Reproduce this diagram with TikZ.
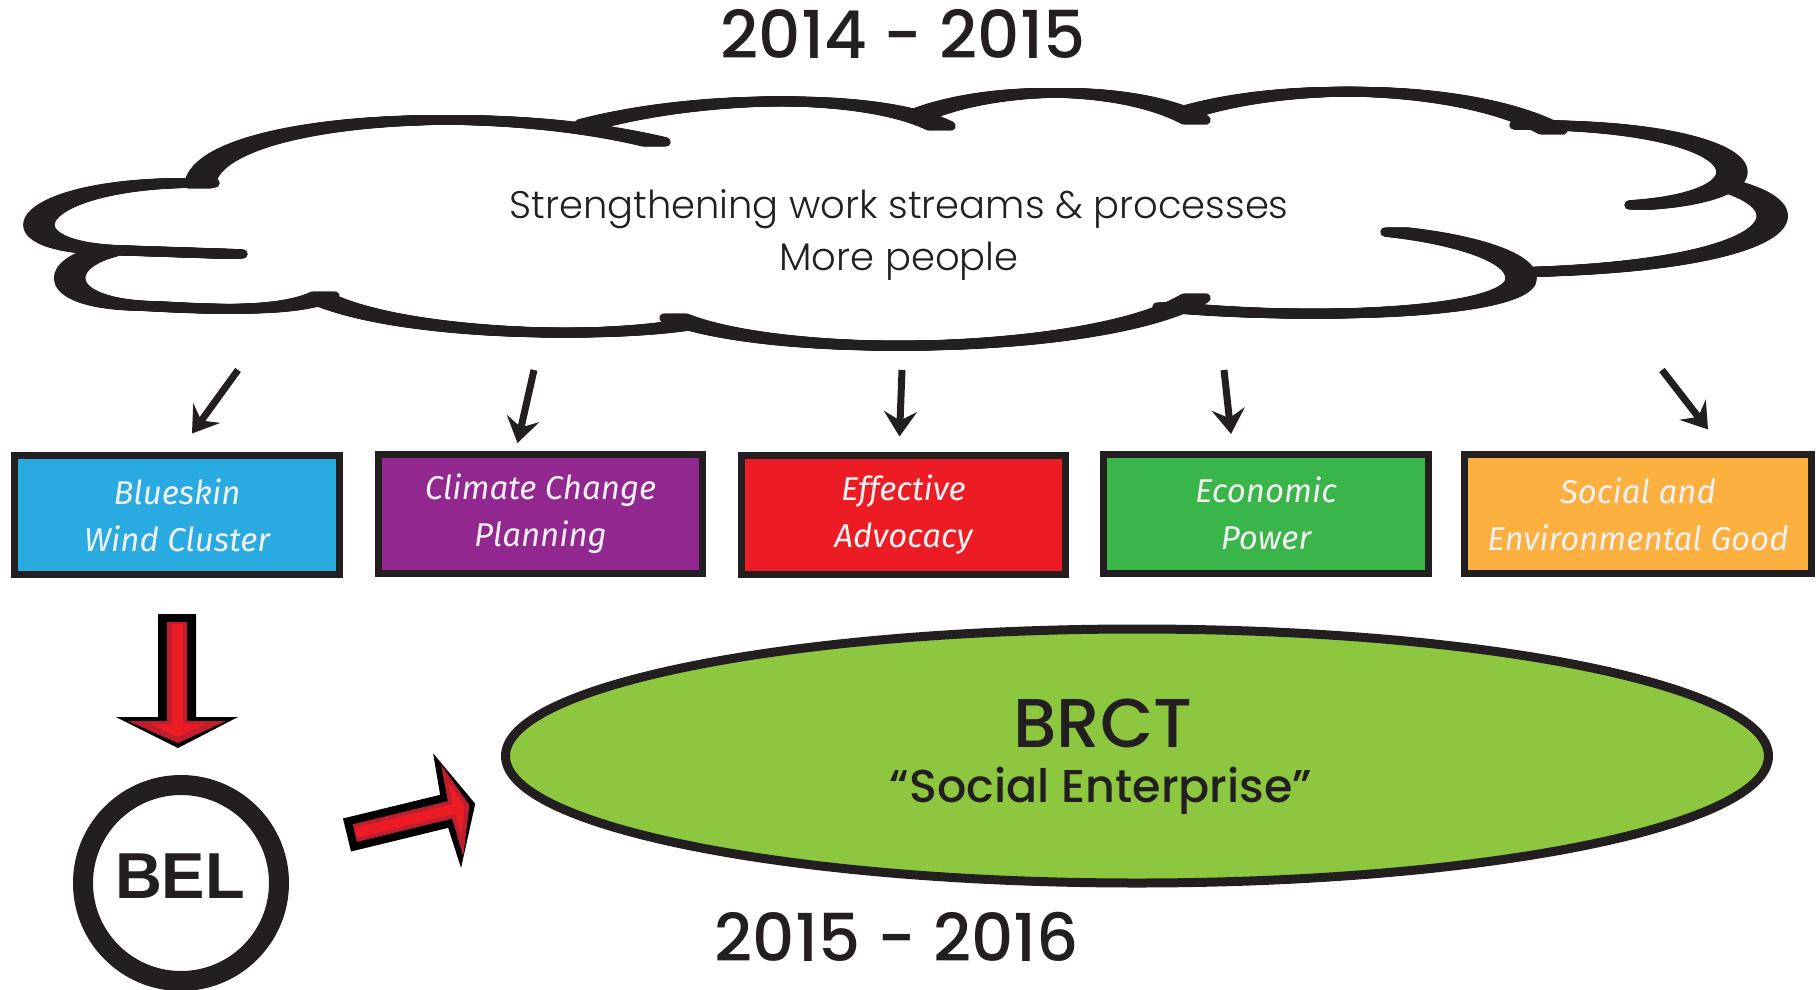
\documentclass[tikz,border=0pt]{standalone}
\usepackage{fontspec}
\usetikzlibrary{arrows.meta,shapes.geometric,calc}
\IfFontExistsTF{Poppins Medium}{\newfontfamily\headfont{Poppins Medium}}{\newfontfamily\headfont{Poppins}}
\IfFontExistsTF{Poppins Light}{\newfontfamily\cloudfont{Poppins Light}}{\IfFontExistsTF{Lato Light}{\newfontfamily\cloudfont{Lato Light}}{\newfontfamily\cloudfont{Lato}}}
\newfontfamily\boxfont{Fira Sans}
\newfontfamily\belfont{Liberation Sans}
\definecolor{cblue}{HTML}{29ABE2}
\definecolor{cpurple}{HTML}{92278F}
\definecolor{cred}{HTML}{ED1C24}
\definecolor{cgreen}{HTML}{39B54A}
\definecolor{corange}{HTML}{FBB040}
\definecolor{clime}{HTML}{8DC63F}
\definecolor{ink}{HTML}{231F20}
\definecolor{dred}{HTML}{BE1E2D}
\definecolor{boxtext}{HTML}{F1F1F2}
\newcommand\cloudlobes{%
 (200,184) .. controls (210,120) and (480,100) .. (655,142)
 (590,124) .. controls (700,95) and (870,92) .. (940,126)
 (925,113) .. controls (1000,85) and (1130,85) .. (1195,120)
 (1185,113) .. controls (1290,80) and (1470,85) .. (1552,130)
 (1525,125) .. controls (1760,125) and (1790,195) .. (1640,205)
 (1725,185) .. controls (1820,210) and (1780,265) .. (1530,272)
 (1396,232) .. controls (1470,240) and (1530,260) .. (1520,283)
            .. controls (1500,315) and (1300,320) .. (1168,307)
 (1195,298) .. controls (1100,355) and (780,360) .. (675,318)
 (690,324) .. controls (600,340) and (400,335) .. (320,298)
 (105,252) .. controls (52,265) and (52,305) .. (150,306)
           .. controls (220,310) and (290,312) .. (324,296)
 (204,183) .. controls (30,180) and (-15,245) .. (110,250) -- (232,254)
}
\tikzset{
 workbox/.style={draw=ink, line width=7pt, minimum width=#1, minimum height=119pt,
   inner sep=0pt, text=boxtext, align=center,
   font=\boxfont\itshape\fontsize{33}{47}\selectfont},
 thinarrow/.style={draw=ink, line width=7pt,
   -{Stealth[length=25pt,width=33pt,inset=9pt]}},
 headtext/.style={anchor=base, text=ink, font=\headfont\fontsize{66}{66}\selectfont},
 cloudtext/.style={anchor=base, text=ink, font=\cloudfont\fontsize{38.5}{38.5}\selectfont},
}
\begin{document}
\begin{tikzpicture}[x=1pt,y=-1pt]
\useasboundingbox (0,0) rectangle (1816,989);
\clip (0,0) rectangle (1816,989);
\fill[white] (0,0) rectangle (1816,989);

% titles
\node[headtext] (top) at (903,58) {2014 - 2015};
\node[headtext] (bottom) at (897,961) {2015 - 2016};

% cloud (broad-nib stroke)
\foreach \s in {-11,-9,...,11}{
  \draw[ink, line width=9.5pt, line cap=round, line join=round, xshift=\s pt] \cloudlobes;
}
\node[cloudtext] (t1) at (899,218) {Strengthening work streams \& processes};
\node[cloudtext] (t2) at (899,270) {More people};

% work stream boxes
\node[workbox=325pt, fill=cblue]   (b1) at (177,515)   {Blueskin\\Wind Cluster};
\node[workbox=324pt, fill=cpurple] (b2) at (540.5,513.5) {Climate Change\\Planning};
\node[workbox=324pt, fill=cred]    (b3) at (903.5,515) {Effective\\Advocacy};
\node[workbox=325pt, fill=cgreen]  (b4) at (1266,513.5) {Economic\\Power};
\node[workbox=347pt, fill=corange] (b5) at (1638,514)  {Social and\\Environmental Good};

% arrows from cloud
\coordinate (c1) at (238,370);
\coordinate (c2) at (534,370);
\coordinate (c3) at (902,370);
\coordinate (c4) at (1224,370);
\coordinate (c5) at (1662,370);
\draw[thinarrow] (c1) -- ([xshift=15pt,yshift=18.5pt]b1.north);
\draw[thinarrow] (c2) -- ([xshift=-23pt,yshift=7.5pt]b2.north);
\draw[thinarrow] (c3) -- ([xshift=-4pt,yshift=15.5pt]b3.north);
\draw[thinarrow] (c4) -- ([xshift=-35pt,yshift=16.5pt]b4.north);
\draw[thinarrow] (c5) -- ([xshift=70pt,yshift=21.5pt]b5.north);

% BRCT ellipse
\node[ellipse, draw=ink, fill=clime, line width=9pt, minimum width=1263pt,
      minimum height=254pt, inner sep=0pt] (brct) at (1137,756) {};
\node[headtext, font=\headfont\fontsize{69}{69}\selectfont] (brctname) at (1103,747) {BRCT};
\node[headtext, font=\headfont\fontsize{46}{46}\selectfont] (brctsub) at (1101,802) {“Social Enterprise”};

% BEL circle
\node[circle, draw=ink, line width=20pt, minimum size=196pt, inner sep=0pt] (bel) at (181,883) {};
\node[anchor=base, text=ink, font=\belfont\bfseries\fontsize{65}{65}\selectfont] (beltext) at (180,898) {BEL};

% red down arrow
\fill[black] (158,614) -- (196,614) -- (196,717) -- (238,717) -- (178,748) -- (116,717) -- (158,717) -- cycle;
\fill[dred] (167,622) -- (187,622) -- (187,721) -- (226,721) -- (178,743) -- (128,721) -- (167,721) -- cycle;
\fill[cred] (172,624) -- (183,624) -- (183,724) -- (205,724) -- (178,737) -- (150,724) -- (172,724) -- cycle;

% red diagonal arrow
\begin{scope}[shift={(347,835)}, rotate=13.7]
\fill[black] (0,-17) -- (100,-17) -- (103,-59) -- (132,0) -- (103,59) -- (100,17) -- (0,17) -- cycle;
\fill[dred] (8,-9) -- (106,-9) -- (108,-46) -- (126,0) -- (108,48) -- (106,9) -- (8,9) -- cycle;
\fill[cred] (10,-5) -- (110,-5) -- (111,-28) -- (121,0) -- (111,28) -- (110,5) -- (10,5) -- cycle;
\end{scope}
\end{tikzpicture}
\end{document}
